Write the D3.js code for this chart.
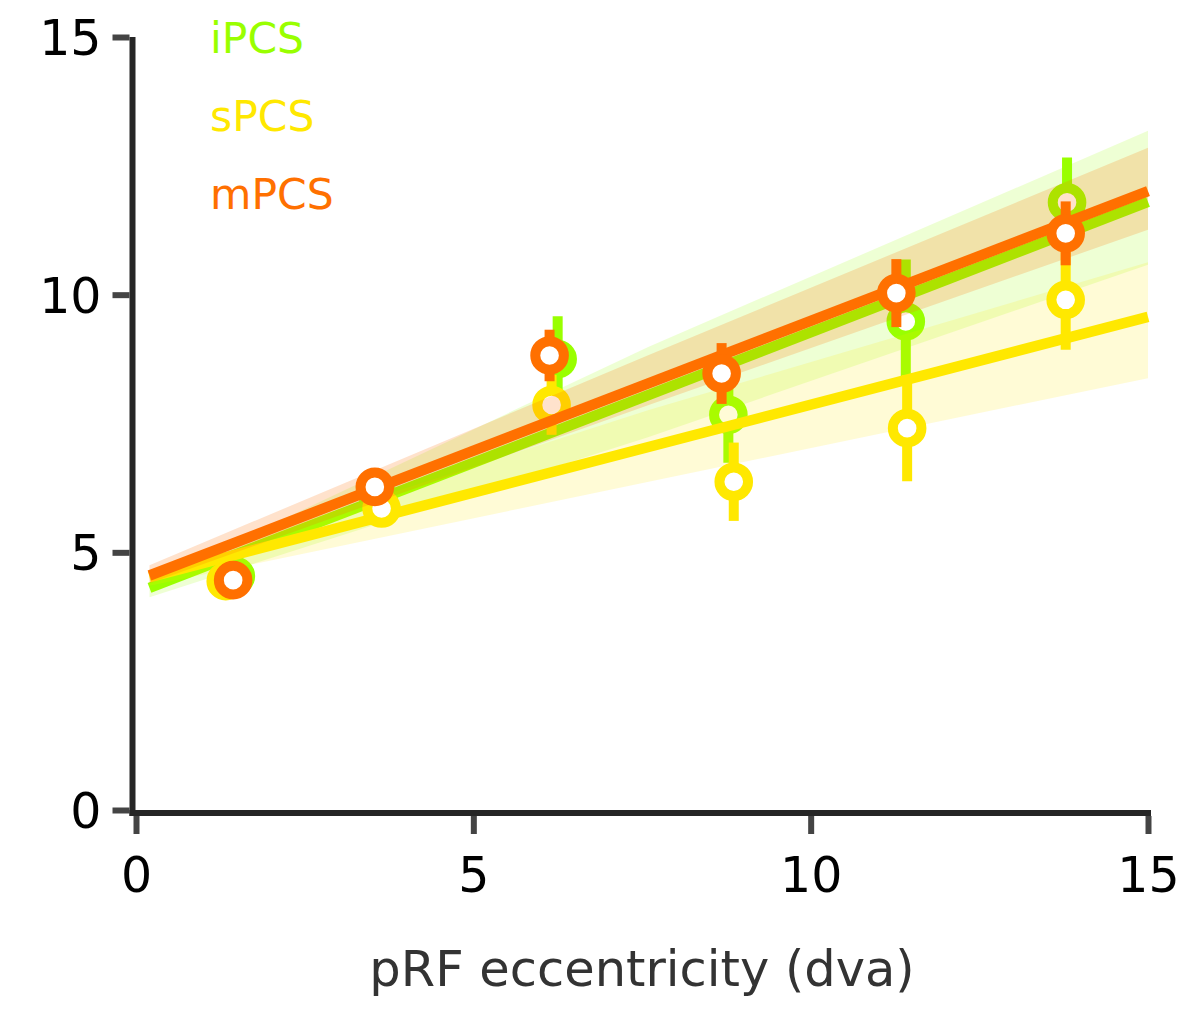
<!DOCTYPE html>
<html><head><meta charset="utf-8">
<script src="https://cdn.jsdelivr.net/npm/d3@7"></script>
<style>
body{margin:0;background:#fff}
text{font-family:"DejaVu Sans",Verdana,sans-serif}
</style>
</head><body>
<svg id="chart" width="1195" height="1010"></svg>
<script>
// ---- data ----
const seriesNames = ["iPCS", "sPCS", "mPCS"];
const seriesColors = ["#99ff00", "#ffe800", "#ff7000"];
const bandOpacity = [0.17, 0.16, 0.2];

const ecc_iPCS = [1.48, 3.59, 6.25, 8.78, 11.41, 13.80];
const val_iPCS = [4.54, 6.07, 8.75, 7.67, 9.48, 11.79];
const err_iPCS = [0.10, 0.15, 0.83, 0.93, 1.20, 0.87];

const ecc_sPCS = [1.33, 3.64, 6.16, 8.86, 11.43, 13.78];
const val_sPCS = [4.44, 5.85, 7.86, 6.37, 7.41, 9.90];
const err_sPCS = [0.10, 0.10, 0.58, 0.76, 1.03, 0.97];

const ecc_mPCS = [1.44, 3.54, 6.13, 8.68, 11.27, 13.78];
const val_mPCS = [4.46, 6.27, 8.82, 8.47, 10.03, 11.19];
const err_mPCS = [0.10, 0.10, 0.50, 0.59, 0.66, 0.62];

const fitX = [0.2, 15];
const fit_iPCS = [4.31, 11.80];
const fit_sPCS = [4.52, 9.57];
const fit_mPCS = [4.55, 12.01];

const bandX = [0.2, 7.6, 15];
const bandLo_iPCS = [4.13, 7.24, 10.58];
const bandHi_iPCS = [4.42, 8.99, 13.18];
const bandLo_sPCS = [4.35, 6.37, 8.38];
const bandHi_sPCS = [4.65, 7.76, 10.63];
const bandLo_mPCS = [4.40, 7.86, 11.26];
const bandHi_mPCS = [4.75, 8.83, 12.85];

const xTicks = [0, 5, 10, 15];
const yTicks = [0, 5, 10, 15];
const xTitle = "pRF eccentricity (dva)";

// ---- build ----
const series = [
  {ecc: ecc_iPCS, val: val_iPCS, err: err_iPCS, fit: fit_iPCS, lo: bandLo_iPCS, hi: bandHi_iPCS},
  {ecc: ecc_sPCS, val: val_sPCS, err: err_sPCS, fit: fit_sPCS, lo: bandLo_sPCS, hi: bandHi_sPCS},
  {ecc: ecc_mPCS, val: val_mPCS, err: err_mPCS, fit: fit_mPCS, lo: bandLo_mPCS, hi: bandHi_mPCS}
];

const svg = d3.select("#chart");
const x = d3.scaleLinear().domain([0, 15]).range([136, 1148]);
const y = d3.scaleLinear().domain([0, 15]).range([810, 37]);

// axes
const yAxis = d3.axisLeft(y).tickValues(yTicks).tickSize(17).tickSizeOuter(0).tickPadding(11);
const gy = svg.append("g").attr("transform", "translate(129.5,0)").call(yAxis);
gy.select(".domain").remove();
gy.selectAll(".tick line").attr("stroke", "#444").attr("stroke-width", 6);
gy.selectAll(".tick text").attr("font-size", 49).attr("fill", "#000").attr("dy", "0.36em")
  .style("font-family", "'DejaVu Sans',Verdana,sans-serif");

const xAxis = d3.axisBottom(x).tickValues(xTicks).tickSize(18).tickSizeOuter(0).tickPadding(23);
const gx = svg.append("g").attr("transform", "translate(0,816)").call(xAxis);
gx.select(".domain").remove();
gx.selectAll(".tick line").attr("stroke", "#444").attr("stroke-width", 6);
gx.selectAll(".tick text").attr("font-size", 49).attr("fill", "#000")
  .style("font-family", "'DejaVu Sans',Verdana,sans-serif");

svg.append("line").attr("x1", 132.5).attr("x2", 132.5).attr("y1", y(15)).attr("y2", 816)
  .attr("stroke", "#262626").attr("stroke-width", 6);
svg.append("line").attr("x1", 129.5).attr("x2", 1151).attr("y1", 813).attr("y2", 813)
  .attr("stroke", "#262626").attr("stroke-width", 6);

svg.append("text").attr("x", (x(0) + x(15)) / 2).attr("y", 986)
  .attr("text-anchor", "middle").attr("font-size", 49.5).attr("fill", "#333").text(xTitle);

// series
const area = d3.area().x(d => x(d.x)).y0(d => y(d.lo)).y1(d => y(d.hi));
const line = d3.line().x(d => x(d.x)).y(d => y(d.y));

series.forEach((s, i) => {
  const g = svg.append("g");
  const col = seriesColors[i];
  g.append("path")
    .datum(bandX.map((bx, k) => ({x: bx, lo: s.lo[k], hi: s.hi[k]})))
    .attr("d", area).attr("fill", col).attr("fill-opacity", bandOpacity[i]);
  g.append("path")
    .datum(fitX.map((fx, k) => ({x: fx, y: s.fit[k]})))
    .attr("d", line).attr("fill", "none").attr("stroke", col).attr("stroke-width", 10.5);
  const pts = s.ecc.map((e, k) => ({x: e, y: s.val[k], e: s.err[k]}));
  g.selectAll(".eb").data(pts).enter().append("line")
    .attr("x1", d => x(d.x)).attr("x2", d => x(d.x))
    .attr("y1", d => y(d.y - d.e)).attr("y2", d => y(d.y + d.e))
    .attr("stroke", col).attr("stroke-width", 10);
  g.selectAll(".pt").data(pts).enter().append("circle")
    .attr("cx", d => x(d.x)).attr("cy", d => y(d.y)).attr("r", 14.3)
    .attr("fill", "#fff").attr("stroke", col).attr("stroke-width", 10);
});

// legend
seriesNames.forEach((n, i) => {
  svg.append("text").attr("x", 210).attr("y", 53 + i * 78)
    .attr("font-size", 42.5).attr("fill", seriesColors[i]).text(n);
});
</script>
</body></html>
